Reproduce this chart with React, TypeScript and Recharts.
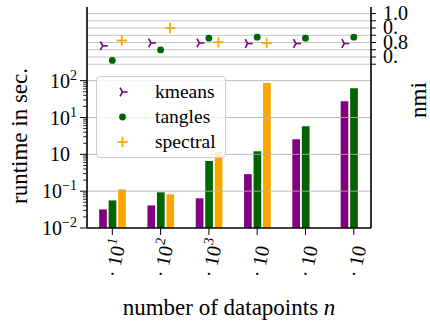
import React from 'react';
import { ComposedChart, Bar, Scatter, XAxis, YAxis, ReferenceLine, Legend } from 'recharts';

const FONT = 'Liberation Serif';
const FS = 20;
const LABEL_FS = 23;
const LEGEND_FS = 19.5;
const SUP = 14;
const PURPLE = '#800080';
const GREEN = '#006400';
const ORANGE = '#ffa500';

// ---------- data ----------
const categories = ['n1', 'n2', 'n3', 'n4', 'n5', 'n6'];
const xTickLabels = ['· 10^1', '· 10^2', '· 10^3', '· 10', '· 10', '· 10'];

const kmeansRuntime = [0.032, 0.041, 0.064, 0.29, 2.56, 27.6];
const tanglesRuntime = [0.056, 0.093, 0.66, 1.21, 5.77, 62];
const spectralRuntime: (number | null)[] = [0.112, 0.082, 1.15, 86.5, null, null];

const kmeansNmi = [0.777, 0.797, 0.797, 0.793, 0.793, 0.793];
const tanglesNmi = [0.676, 0.749, 0.83, 0.837, 0.83, 0.837];
const spectralNmi: (number | null)[] = [0.814, 0.899, 0.802, 0.797, null, null];

const seriesNames = ['kmeans', 'tangles', 'spectral'];

const runtimeDomain = [0.01, 10000];
const runtimeMajorTicks = [0.01, 0.1, 1, 10, 100];
const runtimeTickLabels = ['10^−2', '10^−1', '10^0', '10^1', '10^2'];
const runtimeExponentShown = [true, true, false, true, true];
const runtimeGridValues = [0.1, 1, 10, 100];

const nmiDomain = [-0.48, 1.045];
const nmiTicks = [0.65, 0.7, 0.75, 0.8, 0.85, 0.9, 0.95, 1.0];
const nmiTickLabels = ['', '0.', '', '0.8', '', '0.', '', '1.0'];

// ---------- derived ----------
const runtimeMinorTicks: number[] = [];
runtimeMajorTicks.slice(0, -1).forEach((d) => {
  for (let m = 2; m <= 9; m++) runtimeMinorTicks.push(d * m);
});
const runtimeTicks = [...runtimeMajorTicks, ...runtimeMinorTicks];

const rows = categories.map((n, i) => ({
  n,
  kmeansRuntime: kmeansRuntime[i],
  tanglesRuntime: tanglesRuntime[i],
  spectralRuntime: spectralRuntime[i],
  kmeansNmi: kmeansNmi[i],
  tanglesNmi: tanglesNmi[i],
  spectralNmi: spectralNmi[i],
}));

const BAR_SIZE = 7.7;
const BAR_GAP = 1.8;
const STEP = BAR_SIZE + BAR_GAP;

// ---------- markers ----------
const TriRight = ({ x, y, r = 5 }: any) => (
  <g stroke={PURPLE} strokeWidth={1.6} strokeLinecap="butt">
    <line x1={x} y1={y} x2={x + r} y2={y} />
    <line x1={x} y1={y} x2={x - r * 0.5} y2={y - r * 0.866} />
    <line x1={x} y1={y} x2={x - r * 0.5} y2={y + r * 0.866} />
  </g>
);
const Dot = ({ x, y }: any) => <circle cx={x} cy={y} r={3.4} fill={GREEN} />;
const Plus = ({ x, y, r = 5.3 }: any) => (
  <g stroke={ORANGE} strokeWidth={1.8}>
    <line x1={x - r} y1={y} x2={x + r} y2={y} />
    <line x1={x} y1={y - r} x2={x} y2={y + r} />
  </g>
);
const markers: Record<string, any> = { kmeans: TriRight, tangles: Dot, spectral: Plus };

const shapeFor = (key: string, dx: number) => {
  const M = markers[key];
  return (p: any) => {
    const v = p.payload ? p.payload[key + 'Nmi'] : null;
    if (v == null || p.cy == null || isNaN(p.cy)) return <g />;
    return <M x={p.cx + dx} y={p.cy} />;
  };
};

// ---------- ticks ----------
const RuntimeTick = (props: any) => {
  const { x, y, payload } = props;
  const i = runtimeMajorTicks.indexOf(payload.value);
  if (i < 0) return <line x1={x} x2={x - 4} y1={y} y2={y} stroke="#000" strokeWidth={0.8} />;
  const [base, exp] = runtimeTickLabels[i].split('^');
  return (
    <g>
      <line x1={x} x2={x - 7} y1={y} y2={y} stroke="#000" strokeWidth={1} />
      <text x={x - 10} y={y + 7} textAnchor="end" fontFamily={FONT} fontSize={FS} fill="#000">
        {base}
        <tspan dy={-8} fontSize={SUP} fill={runtimeExponentShown[i] ? '#000' : 'transparent'}>
          {exp}
        </tspan>
      </text>
    </g>
  );
};

const NmiTick = (props: any) => {
  const { x, y, payload } = props;
  const i = nmiTicks.indexOf(payload.value);
  const label = i >= 0 ? nmiTickLabels[i] : '';
  return (
    <g>
      <line x1={x} x2={x + 5} y1={y} y2={y} stroke="#000" strokeWidth={1} />
      {label && (
        <text x={x + 12} y={y + 6} textAnchor="start" fontFamily={FONT} fontSize={FS} fill="#000">
          {label}
        </text>
      )}
    </g>
  );
};

const XTick = (props: any) => {
  const { x, index } = props;
  const [base, exp] = xTickLabels[index].split('^');
  return (
    <text
      transform={`translate(${x - 1},${277}) rotate(-78)`}
      textAnchor="start"
      dominantBaseline="central"
      fontFamily={FONT}
      fontSize={FS}
      fill="#000"
    >
      {base}
      {exp && (
        <tspan dy={-7} fontSize={SUP}>
          {exp}
        </tspan>
      )}
    </text>
  );
};

// ---------- legend ----------
const LegendBox = () => (
  <div
    style={{
      width: 130,
      height: 82,
      boxSizing: 'border-box',
      border: '1px solid #cccccc',
      borderRadius: 4,
      background: 'rgba(255,255,255,0.8)',
      position: 'relative',
      fontFamily: FONT,
      fontSize: LEGEND_FS,
      color: '#000',
    }}
  >
    {seriesNames.map((name, i) => {
      const M = markers[name];
      return (
        <div key={name} style={{ position: 'absolute', left: 0, top: 3 + i * 25, height: 24, width: 130 }}>
          <svg width={50} height={24} style={{ position: 'absolute', left: 0, top: 0 }}>
            <M x={25.5} y={12} />
          </svg>
          <span style={{ position: 'absolute', left: 58, top: 0, lineHeight: '23px', whiteSpace: 'nowrap' }}>{name}</span>
        </div>
      );
    })}
  </div>
);

export default function App() {
  return (
    <div style={{ position: 'absolute', left: 0, top: 0, width: 430, height: 324, background: '#fff' }}>
      <ComposedChart
        width={430}
        height={324}
        data={rows}
        margin={{ top: 7, right: 0, bottom: 0, left: 0 }}
        barGap={BAR_GAP}
      >
        <XAxis
          xAxisId="x"
          dataKey="n"
          type="category"
          padding={{ left: 1.15, right: -6.95 }}
          interval={0}
          tick={<XTick />}
          tickSize={7}
          tickMargin={0}
          tickLine={{ stroke: '#000', strokeWidth: 1 }}
          axisLine={{ stroke: '#000', strokeWidth: 1.6 }}
          height={96}
          label={(p: any) => {
            const vb = p.viewBox;
            return (
              <text x={vb.x + vb.width / 2} y={vb.y + 87} textAnchor="middle" fontFamily={FONT} fontSize={LABEL_FS} fill="#000">
                number of datapoints <tspan fontStyle="italic">n</tspan>
              </text>
            );
          }}
        />
        <XAxis
          xAxisId="top"
          orientation="top"
          dataKey="n"
          height={0}
          tick={false}
          tickLine={false}
          axisLine={{ stroke: '#000', strokeWidth: 1.6 }}
        />
        <YAxis
          yAxisId="rt"
          orientation="left"
          type="number"
          scale="log"
          domain={runtimeDomain}
          allowDataOverflow
          ticks={runtimeTicks}
          interval={0}
          tick={<RuntimeTick />}
          tickLine={false}
          tickSize={0}
          tickMargin={0}
          axisLine={{ stroke: '#000', strokeWidth: 1.6 }}
          width={87}
          label={(p: any) => {
            const vb = p.viewBox;
            return (
              <text
                transform={`translate(${vb.x + 27},${136}) rotate(-90)`}
                textAnchor="middle"
                fontFamily={FONT}
                fontSize={LABEL_FS}
                fill="#000"
              >
                runtime in sec.
              </text>
            );
          }}
        />
        <YAxis
          yAxisId="nmi"
          orientation="right"
          type="number"
          domain={nmiDomain}
          allowDataOverflow
          ticks={nmiTicks}
          interval={0}
          tick={<NmiTick />}
          tickLine={false}
          tickSize={0}
          tickMargin={0}
          axisLine={{ stroke: '#000', strokeWidth: 1.6 }}
          width={59}
          label={(p: any) => {
            const vb = p.viewBox;
            return (
              <text
                transform={`translate(${vb.x + 55},${100}) rotate(-90)`}
                textAnchor="middle"
                fontFamily={FONT}
                fontSize={LABEL_FS}
                fill="#000"
              >
                nmi
              </text>
            );
          }}
        />
        <Bar xAxisId="x" yAxisId="rt" dataKey="kmeansRuntime" fill={PURPLE} barSize={BAR_SIZE} isAnimationActive={false} legendType="none" />
        <Bar xAxisId="x" yAxisId="rt" dataKey="tanglesRuntime" fill={GREEN} barSize={BAR_SIZE} isAnimationActive={false} legendType="none" />
        <Bar xAxisId="x" yAxisId="rt" dataKey="spectralRuntime" fill={ORANGE} barSize={BAR_SIZE} isAnimationActive={false} legendType="none" />
        {runtimeGridValues.map((v) => (
          <ReferenceLine key={'rg' + v} xAxisId="x" yAxisId="rt" y={v} stroke="#b0b0b0" strokeOpacity={0.85} strokeWidth={1} ifOverflow="hidden" />
        ))}
        {nmiTicks.map((v) => (
          <ReferenceLine key={'ng' + v} xAxisId="x" yAxisId="nmi" y={v} stroke="#c4c4c4" strokeWidth={1} ifOverflow="hidden" />
        ))}
        <Scatter xAxisId="x" yAxisId="nmi" dataKey="kmeansNmi" name="kmeans" shape={shapeFor('kmeans', -STEP)} isAnimationActive={false} />
        <Scatter xAxisId="x" yAxisId="nmi" dataKey="tanglesNmi" name="tangles" shape={shapeFor('tangles', 0)} isAnimationActive={false} />
        <Scatter xAxisId="x" yAxisId="nmi" dataKey="spectralNmi" name="spectral" shape={shapeFor('spectral', STEP)} isAnimationActive={false} />
        <Legend
          layout="vertical"
          align="center"
          verticalAlign="middle"
          content={() => <LegendBox />}
          wrapperStyle={{ left: 96, top: 76, width: 130, height: 82 }}
        />
      </ComposedChart>
    </div>
  );
}
